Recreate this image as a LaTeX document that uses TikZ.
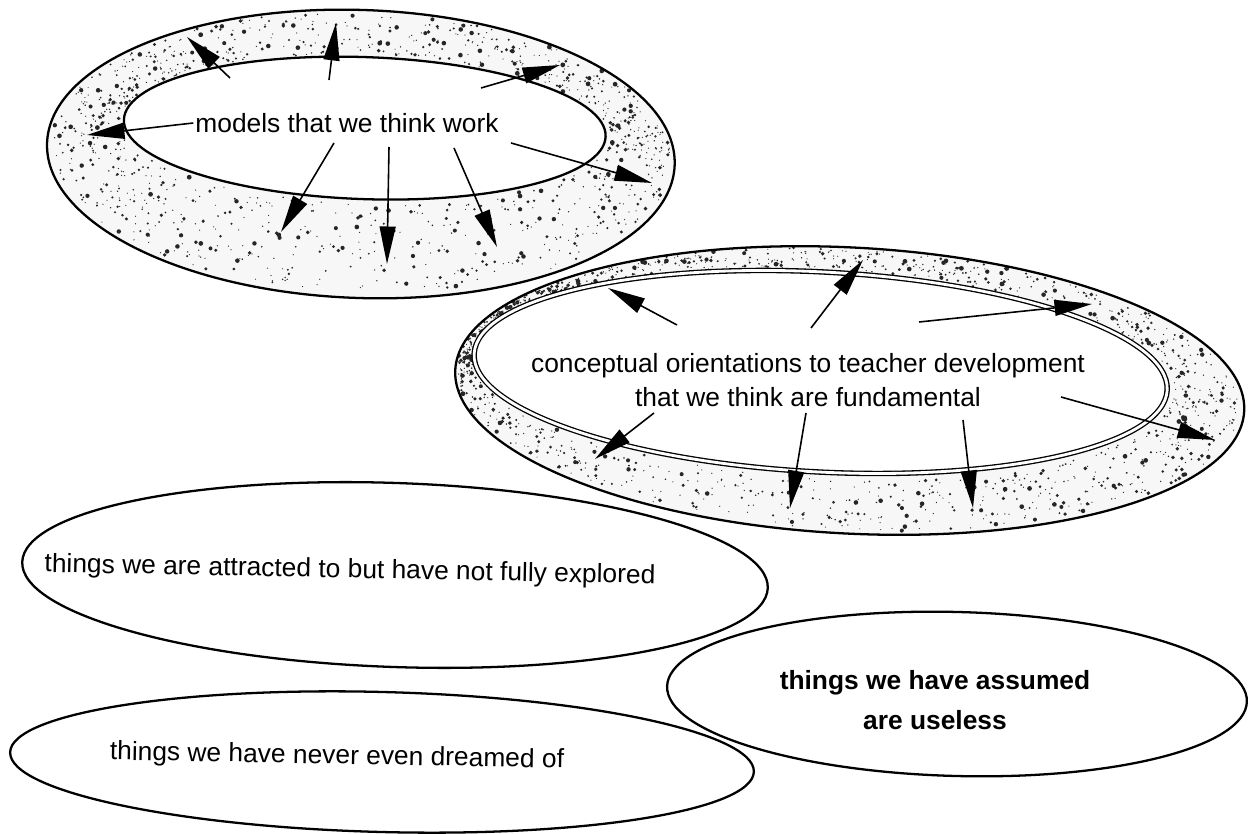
\documentclass[tikz,border=0pt]{standalone}
\usepackage{fontspec}
\setmainfont{Liberation Sans}
\usetikzlibrary{arrows.meta,calc}

\tikzset{
  rim/.style={line width=1.3pt},
  ringfill/.style={fill=black!3, even odd rule},
  speck/.style={fill=black!85},
  spoke/.style={line width=0.9pt, -{Triangle[length=0.75cm,width=0.32cm]}},
  label/.style={inner sep=1pt, font=\fontsize{15}{19}\selectfont},
}

\begin{document}
\begin{tikzpicture}[x=0.02cm,y=-0.02cm]
\useasboundingbox (0,0) rectangle (1248,834);
\pgfmathsetseed{42}

% top ring
\begin{scope}[rotate around={-2:(361,150)}]
\fill[ringfill] (361,154) ellipse [x radius=314, y radius=144]
  (364,128) ellipse [x radius=241, y radius=71];
\foreach \k in {1,...,1100}{
  \pgfmathsetmacro\t{360*rnd}
  \pgfmathsetmacro\u{0.05+0.9*rnd}
  \pgfmathsetmacro\r{0.6+1.8*rnd^3}
  \fill[speck] ($({364+241*cos(\t)},{128+71*sin(\t)})!\u!({361+314*cos(\t)},{154+144*sin(\t)})$) circle [radius=\r];
}
\draw[rim] (361,154) ellipse [x radius=314, y radius=144];
\draw[rim] (364,128) ellipse [x radius=241, y radius=71];
\end{scope}

% second ring
\begin{scope}[rotate around={-3:(840,385)}]
\fill[ringfill] (850,390) ellipse [x radius=395, y radius=143]
  (820,373) ellipse [x radius=347, y radius=100];
\foreach \k in {1,...,1200}{
  \pgfmathsetmacro\t{360*rnd}
  \pgfmathsetmacro\u{0.1+0.84*rnd}
  \pgfmathsetmacro\r{0.6+1.8*rnd^3}
  \fill[speck] ($({820+347*cos(\t)},{373+100*sin(\t)})!\u!({850+395*cos(\t)},{390+143*sin(\t)})$) circle [radius=\r];
}
\draw[rim] (850,390) ellipse [x radius=395, y radius=143];
\draw[line width=0.75pt, double, double distance=1.6pt] (820,373) ellipse [x radius=347, y radius=100];
\end{scope}

% plain ellipses
\draw[rim, rotate around={-2:(395,575)}] (395,575) ellipse [x radius=373, y radius=92];
\draw[rim, rotate around={-1.5:(382,762)}] (382,762) ellipse [x radius=372, y radius=70];
\draw[rim, rotate around={-1.5:(957,694)}] (957,694) ellipse [x radius=290, y radius=82];

% texts
\node[label] (models) at (347,123) {models that we think work};
\node[label, align=center] (concept) at (808,380)
  {conceptual orientations to teacher development\\that we think are fundamental};
\node[label, rotate=-1.1] (attracted) at (350,571) {things we are attracted to but have not fully explored};
\node[label, rotate=-1] (dreamed) at (337,757) {things we have never even dreamed of};
\node[label, align=center, font=\bfseries\fontsize{15}{22.5}\selectfont] (useless) at (935,700)
  {things we have assumed\\are useless};

% spokes of the top ring
\coordinate (ms1) at (230,78);  \coordinate (mt1) at (187,37);
\coordinate (ms2) at (329,80);  \coordinate (mt2) at (336,23);
\coordinate (ms3) at (481,88);  \coordinate (mt3) at (560,65);
\coordinate (ms4) at (models.west); \coordinate (mt4) at (87,135);
\coordinate (ms5) at (511,143); \coordinate (mt5) at (652,183);
\coordinate (ms6) at (334,143); \coordinate (mt6) at (281,232);
\coordinate (ms7) at (389,147); \coordinate (mt7) at (387,264);
\coordinate (ms8) at (454,148); \coordinate (mt8) at (497,247);
\foreach \i in {1,...,8}
  \draw[spoke] (ms\i) -- (mt\i);

% spokes of the second ring
\coordinate (cs1) at (677,325);  \coordinate (ct1) at (608,288);
\coordinate (cs2) at (811,328);  \coordinate (ct2) at (863,260);
\coordinate (cs3) at (919,322);  \coordinate (ct3) at (1092,304);
\coordinate (cs4) at (1061,397); \coordinate (ct4) at (1215,440);
\coordinate (cs5) at (654,413);  \coordinate (ct5) at (595,459);
\coordinate (cs6) at (806,413);  \coordinate (ct6) at (790,508);
\coordinate (cs7) at (963,420);  \coordinate (ct7) at (973,508);
\foreach \i in {1,...,7}
  \draw[spoke] (cs\i) -- (ct\i);
\end{tikzpicture}
\end{document}
